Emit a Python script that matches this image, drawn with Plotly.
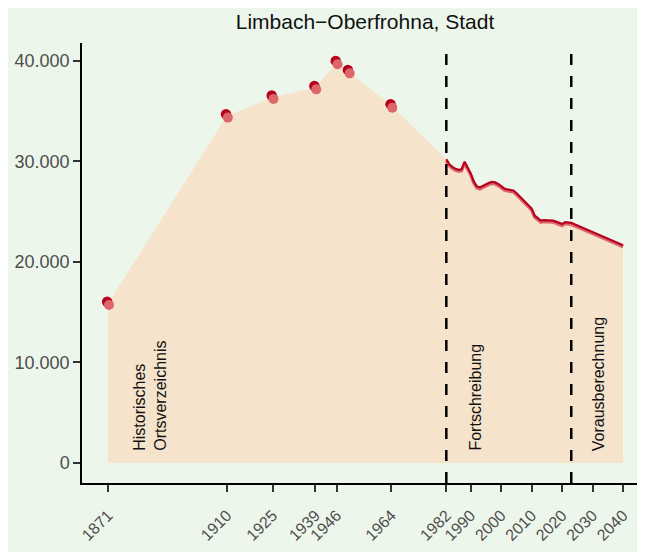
import plotly.graph_objects as go

# ---- data ----
hist_years = [1871, 1910, 1925, 1939, 1946, 1950, 1964]
hist_pop = [15860, 34500, 36360, 37310, 39800, 38900, 35490]

fort_years = list(range(1982, 2023))
fort_pop = [30200, 29700, 29450, 29250, 29150, 29200, 29950, 29350, 28800, 28000,
            27500, 27400, 27550, 27750, 27850, 27950, 27900, 27750, 27500, 27300,
            27200, 27150, 27100, 26850, 26550, 26250, 25950, 25650, 25300, 24600,
            24300, 24100, 24150, 24150, 24150, 24100, 24000, 23850, 23750, 23950,
            23880]

proj_years = [2023, 2025, 2030, 2035, 2040]
proj_pop = [23880, 23620, 22970, 22320, 21660]

tick_years = [1871, 1910, 1925, 1939, 1946, 1964, 1982, 1990, 2000, 2010, 2020, 2030, 2040]
y_ticks = [0, 10000, 20000, 30000, 40000]
phase_breaks = [1982, 2023]
title = "Limbach\u2212Oberfrohna, Stadt"

# ---- styling ----
BG = "#edf6eb"
AREA = "#f5e3cb"
DARK = "#b5001f"
LIGHT = "#dc6669"
FONT = "Liberation Sans"

# page body adds an 8px offset; compensate in the margins
OFF = 8
W, H = 645, 552
M_L, M_R, M_T, M_B = 82 - OFF, OFF, 43 - OFF, 552 - 483 + OFF

X_RANGE = [1862.44, 2047.2]
Y_RANGE = [-1990, 41760]
# pixel -> data conversions for small shadow offsets
PX_X = (X_RANGE[1] - X_RANGE[0]) / (W - M_L - M_R)
PX_Y = (Y_RANGE[1] - Y_RANGE[0]) / (H - M_T - M_B)

all_years = hist_years + fort_years + proj_years
all_pop = hist_pop + fort_pop + proj_pop
line_years = fort_years + proj_years
line_pop = fort_pop + proj_pop

fig = go.Figure()

fig.add_trace(go.Scatter(x=all_years, y=all_pop, mode="lines", line=dict(width=0),
                         fill="tozeroy", fillcolor=AREA, hoverinfo="skip", showlegend=False))

# line with lighter shadow below
fig.add_trace(go.Scatter(x=line_years, y=[v - 1.6 * PX_Y for v in line_pop], mode="lines",
                         line=dict(color=LIGHT, width=3.2), showlegend=False, hoverinfo="skip"))
fig.add_trace(go.Scatter(x=line_years, y=line_pop, mode="lines",
                         line=dict(color=DARK, width=2.2), showlegend=False))

# points: dark underneath, lighter on top offset down-right
fig.add_trace(go.Scatter(x=[v - 0.9 * PX_X for v in hist_years], y=[v + 1.8 * PX_Y for v in hist_pop],
                         mode="markers", marker=dict(color=DARK, size=10.5, line=dict(width=0)),
                         showlegend=False, hoverinfo="skip"))
fig.add_trace(go.Scatter(x=[v + 0.9 * PX_X for v in hist_years], y=[v - 1.6 * PX_Y for v in hist_pop],
                         mode="markers", marker=dict(color=LIGHT, size=10, line=dict(width=0)),
                         showlegend=False))

shapes = []
for b in phase_breaks:
    shapes.append(dict(type="line", xref="x", yref="paper", x0=b, x1=b, y0=0, y1=1,
                       line=dict(color="black", width=2.5, dash="11px,11px")))

annotations = [
    dict(x=1884.7, y=1000, xref="x", yref="y", text="Historisches<br>Ortsverzeichnis",
         textangle=-90, showarrow=False, xanchor="center", yanchor="bottom", align="left",
         font=dict(family=FONT, size=16, color="#111111")),
    dict(x=1991.45, y=1000, xref="x", yref="y", text="Fortschreibung",
         textangle=-90, showarrow=False, xanchor="center", yanchor="bottom",
         font=dict(family=FONT, size=16, color="#111111")),
    dict(x=2032.2, y=1000, xref="x", yref="y", text="Vorausberechnung",
         textangle=-90, showarrow=False, xanchor="center", yanchor="bottom",
         font=dict(family=FONT, size=16, color="#111111")),
]

fig.update_layout(
    width=W, height=H,
    margin=dict(l=M_L, r=M_R, t=M_T, b=M_B, autoexpand=False),
    paper_bgcolor=BG, plot_bgcolor=BG,
    separators=",.",
    font=dict(family=FONT),
    title=dict(text=title, x=(365 - OFF) / W, xanchor="center", y=1 - (22 - OFF) / H,
               yanchor="middle", font=dict(family=FONT, size=21, color="#111111")),
    shapes=shapes, annotations=annotations,
    showlegend=False,
)
fig.update_xaxes(range=X_RANGE, tickvals=tick_years, ticktext=[str(t) for t in tick_years],
                 tickangle=-45, showgrid=False, zeroline=False, showline=True, automargin=False,
                 linecolor="black", linewidth=1.5, ticks="outside", ticklen=7, tickwidth=1.5,
                 tickcolor="#333333", tickfont=dict(family=FONT, size=16, color="#4d4d4d"),
                 ticklabelstandoff=8)
fig.update_yaxes(range=Y_RANGE, tickvals=y_ticks, tickformat=",d", showgrid=False,
                 zeroline=False, showline=True, linecolor="black", linewidth=1.5, automargin=False,
                 ticks="outside", ticklen=7, tickwidth=1.5, tickcolor="#333333",
                 tickfont=dict(family=FONT, size=18, color="#4d4d4d"))

fig.write_html("out.html")
